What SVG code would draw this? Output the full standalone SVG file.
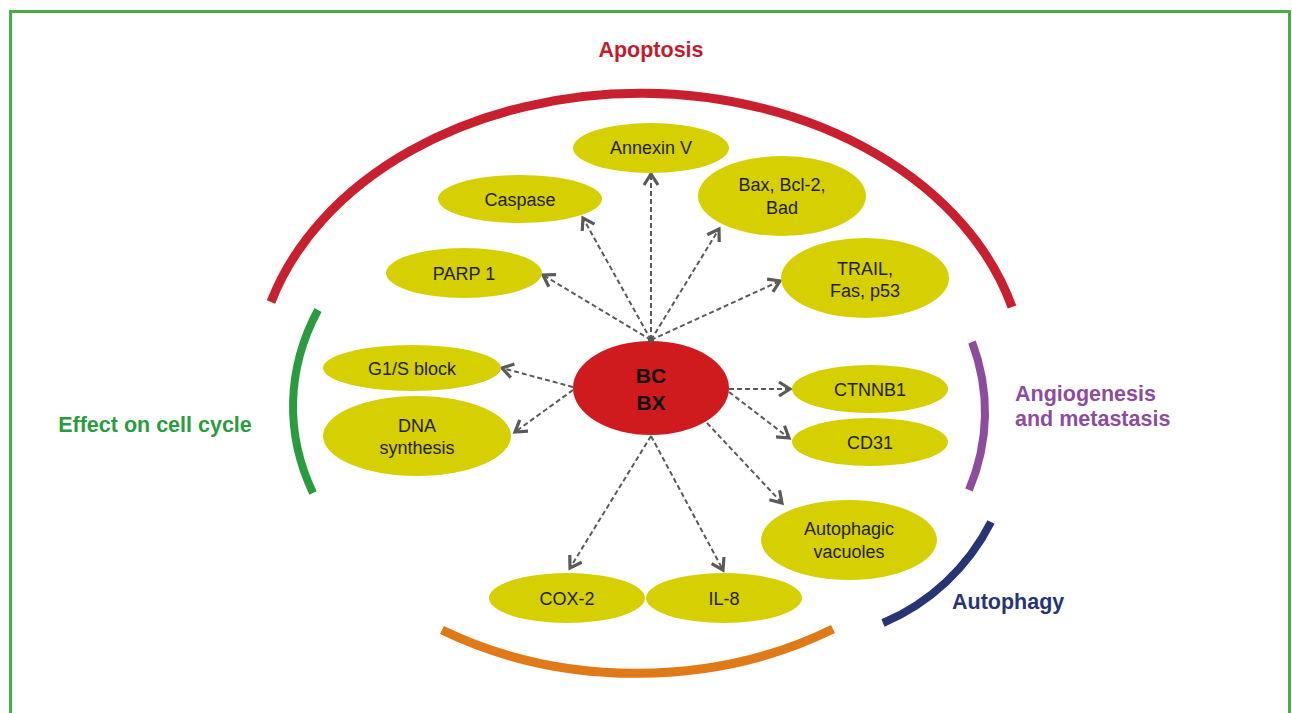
<svg xmlns="http://www.w3.org/2000/svg" width="1292" height="713" viewBox="0 0 1292 713">
<defs>
<style>
.node{fill:#d6cf02}
.t{font-family:"Liberation Sans",Arial,sans-serif;font-size:18px;fill:#1f1f10;text-anchor:middle}
.lbl{font-family:"Liberation Sans",Arial,sans-serif;font-size:21.5px;font-weight:bold}
.arc{fill:none;stroke-linecap:butt}
.con{fill:none;stroke:#5a5a5a;stroke-width:2;stroke-dasharray:5 3;marker-end:url(#arr)}
</style>
<marker id="arr" markerUnits="userSpaceOnUse" markerWidth="20" markerHeight="20" refX="13" refY="9" orient="auto">
<path d="M2,2 L13,9 L2,16" fill="none" stroke="#5a5a5a" stroke-width="3.2" stroke-dasharray="none" stroke-linejoin="miter"/>
</marker>
</defs>
<rect width="1292" height="713" fill="#ffffff"/>
<path d="M10.5 713 V11.5 H1289.5 V713" fill="none" stroke="#46ae46" stroke-width="3"/>

<g id="arcs">
<path class="arc" d="M271 302 A385 290 0 0 1 1012 307" stroke="#c8202e" stroke-width="9"/>
<path class="arc" d="M318 310 A350 260 0 0 0 313 493" stroke="#2b9b3f" stroke-width="8"/>
<path class="arc" d="M972 342 A350 260 0 0 1 969 490" stroke="#8d4c9e" stroke-width="8"/>
<path class="arc" d="M991 522 A215 215 0 0 1 883 623" stroke="#283574" stroke-width="8"/>
<path class="arc" d="M442 630 A370 290 0 0 0 833 629" stroke="#e07a18" stroke-width="9"/>
</g>

<g id="labels">
<text class="lbl" x="651" y="57" text-anchor="middle" fill="#c01e2e">Apoptosis</text>
<text class="lbl" x="155" y="432" text-anchor="middle" fill="#2b9b3f">Effect on cell cycle</text>
<text class="lbl" x="1015" y="401" fill="#8d4c9e">Angiogenesis</text>
<text class="lbl" x="1015" y="426" fill="#8d4c9e">and metastasis</text>
<text class="lbl" x="952" y="609" fill="#283574">Autophagy</text>
</g>

<g id="connectors">
<path class="con" d="M651 340 L543 275"/>
<path class="con" d="M651 340 L583 218"/>
<path class="con" d="M651 340 L651 174"/>
<path class="con" d="M651 340 L719 229"/>
<path class="con" d="M651 340 L780 281"/>
<path class="con" d="M573 387 L502 368"/>
<path class="con" d="M573 390 L515 432"/>
<path class="con" d="M729 389 L790 389"/>
<path class="con" d="M729 392 L789 438"/>
<path class="con" d="M707 423 L782 503"/>
<path class="con" d="M651 436 L570 568"/>
<path class="con" d="M651 436 L723 570"/>
</g>

<g id="node-annexin"><ellipse class="node" cx="651" cy="148" rx="78" ry="25"/><text class="t" x="651" y="154">Annexin V</text></g>
<g id="node-caspase"><ellipse class="node" cx="520" cy="199" rx="82" ry="24"/><text class="t" x="520" y="206">Caspase</text></g>
<g id="node-bax"><ellipse class="node" cx="782" cy="196" rx="84" ry="40"/><text class="t" x="782" y="191">Bax, Bcl-2,</text><text class="t" x="782" y="214">Bad</text></g>
<g id="node-parp"><ellipse class="node" cx="464" cy="273" rx="78" ry="25"/><text class="t" x="464" y="280">PARP 1</text></g>
<g id="node-trail"><ellipse class="node" cx="865" cy="278" rx="84" ry="40"/><text class="t" x="865" y="275">TRAIL,</text><text class="t" x="865" y="297">Fas, p53</text></g>
<g id="node-g1s"><ellipse class="node" cx="412" cy="368" rx="89" ry="23"/><text class="t" x="412" y="375">G1/S block</text></g>
<g id="node-dna"><ellipse class="node" cx="417" cy="436" rx="94" ry="40"/><text class="t" x="417" y="432">DNA</text><text class="t" x="417" y="454">synthesis</text></g>
<g id="node-bcbx"><ellipse cx="651" cy="388" rx="78" ry="47" fill="#cf1a1e"/><circle cx="651" cy="340" r="3" fill="#555"/>
<text x="651" y="383" text-anchor="middle" font-family="Liberation Sans, Arial, sans-serif" font-size="21" font-weight="bold" fill="#111">BC</text>
<text x="651" y="410" text-anchor="middle" font-family="Liberation Sans, Arial, sans-serif" font-size="21" font-weight="bold" fill="#111">BX</text></g>
<g id="node-ctnnb1"><ellipse class="node" cx="870" cy="389" rx="78" ry="24"/><text class="t" x="870" y="396">CTNNB1</text></g>
<g id="node-cd31"><ellipse class="node" cx="870" cy="442" rx="78" ry="24"/><text class="t" x="870" y="449">CD31</text></g>
<g id="node-autophagic"><ellipse class="node" cx="849" cy="540" rx="88" ry="40"/><text class="t" x="849" y="535">Autophagic</text><text class="t" x="849" y="558">vacuoles</text></g>
<g id="node-cox2"><ellipse class="node" cx="567" cy="598" rx="78" ry="25"/><text class="t" x="567" y="605">COX-2</text></g>
<g id="node-il8"><ellipse class="node" cx="724" cy="598" rx="78" ry="25"/><text class="t" x="724" y="605">IL-8</text></g>
</svg>
